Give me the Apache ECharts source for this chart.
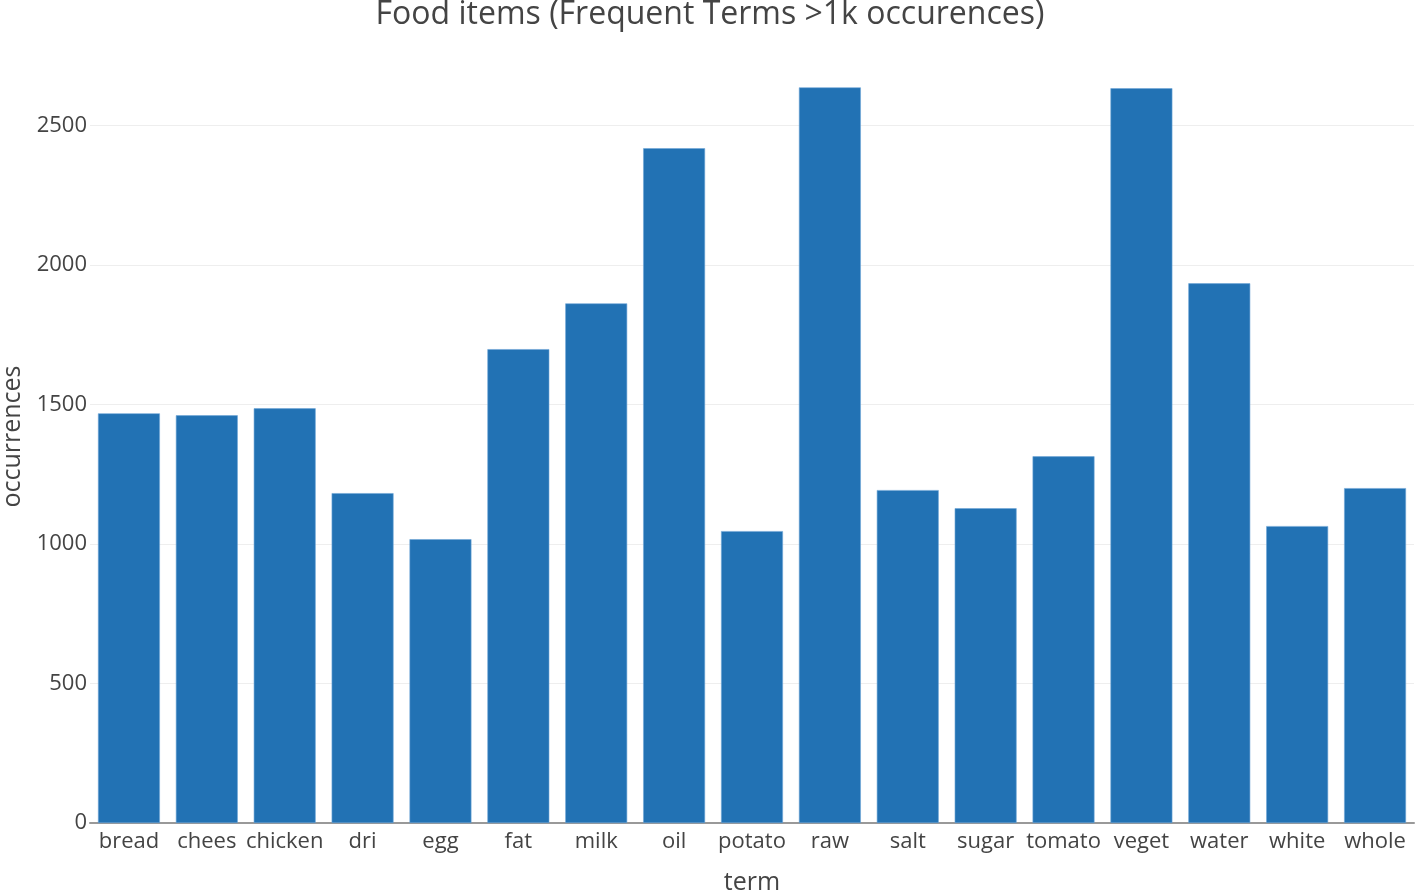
<!DOCTYPE html>
<html>
<head>
<meta charset="utf-8">
<script src="https://cdn.jsdelivr.net/npm/echarts@6/dist/echarts.min.js"></script>
<style>html,body{margin:0;padding:0;background:#fff;}#c{width:1416px;height:894px;}</style>
</head>
<body>
<div id="c"></div>
<script>
const categories = ["bread","chees","chicken","dri","egg","fat","milk","oil","potato","raw","salt","sugar","tomato","veget","water","white","whole"];
const occurrences = [1468,1461,1486,1182,1017,1698,1862,2418,1046,2636,1193,1128,1314,2633,1934,1064,1200];
const titleText = "Food items (Frequent Terms >1k occurences)";
const xName = "term";
const yName = "occurrences";

const chart = echarts.init(document.getElementById('c'));
const font = '"Open Sans", "Noto Sans", sans-serif';
chart.setOption({
  animation: false,
  backgroundColor: '#fff',
  textStyle: { fontFamily: font },
  title: {
    text: titleText,
    left: 705, top: -6, textAlign: 'center',
    textStyle: { fontFamily: font, fontSize: 32, fontWeight: 'normal', color: '#444' }
  },
  grid: { left: 90, right: 2, top: 50, bottom: 71, containLabel: false, outerBoundsMode: 'none' },
  xAxis: {
    type: 'category',
    data: categories,
    name: xName,
    nameLocation: 'middle',
    nameGap: 47,
    nameTextStyle: { fontFamily: font, fontSize: 25, color: '#444' },
    axisLine: { show: true, lineStyle: { color: '#999', width: 2 } },
    axisTick: { show: false },
    axisLabel: { fontFamily: font, fontSize: 22, color: '#444', margin: 8, interval: 0 }
  },
  yAxis: {
    type: 'value',
    min: 0, max: 2770, interval: 500,
    name: yName,
    nameLocation: 'middle',
    nameGap: 65,
    nameTextStyle: { fontFamily: font, fontSize: 25, color: '#444' },
    axisLine: { show: false },
    axisTick: { show: false },
    axisLabel: { fontFamily: font, fontSize: 22, color: '#444', margin: 3, showMaxLabel: false,
                 formatter: v => String(v) },
    splitLine: { show: true, showMaxLine: false, lineStyle: { color: '#eee', width: 1 } }
  },
  series: [{
    type: 'bar',
    data: occurrences,
    barCategoryGap: '20.5%',
    itemStyle: { color: '#2272b4', borderColor: '#6ea6d6', borderWidth: 0.6 }
  }]
});
</script>
</body>
</html>
